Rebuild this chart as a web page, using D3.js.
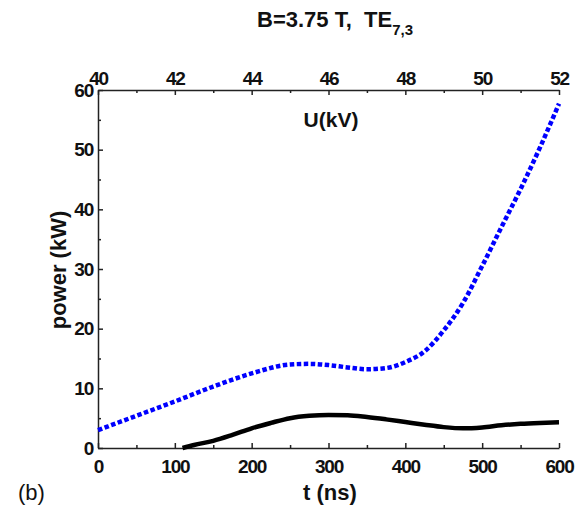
<!DOCTYPE html>
<html>
<head>
<meta charset="utf-8">
<script src="https://cdn.jsdelivr.net/npm/d3@7"></script>
<style>
  html, body { margin: 0; padding: 0; background: #fff; }
  svg { display: block; }
  text { font-family: "Liberation Sans", Arial, sans-serif; fill: #111; }
  .tick text { font-size: 19px; font-weight: bold; letter-spacing: -1.2px; }
  .tick line, .domain { stroke: #222; stroke-width: 1.5; }
</style>
</head>
<body>
<svg id="chart" width="585" height="508"></svg>
<script>
// Bottom axis: time in ns; top axis: voltage in kV
const timeTicks = [0, 100, 200, 300, 400, 500, 600];
const voltTicks = [40, 42, 44, 46, 48, 50, 52];
const powerTicks = [0, 10, 20, 30, 40, 50, 60];

// Blue dotted curve: power vs time
const blueT = [0, 50, 100, 150, 200, 250, 275, 300, 325, 350, 375, 400, 425, 450, 475, 500, 525, 550, 575, 600];
const blueP = [3.0, 5.4, 7.8, 10.3, 12.5, 14.0, 14.1, 13.9, 13.5, 13.2, 13.4, 14.4, 16.2, 19.7, 24.3, 30.5, 37.0, 43.4, 50.3, 57.7];

// Black solid curve: power vs time
const blackT = [110, 125, 150, 175, 200, 225, 250, 275, 300, 325, 350, 375, 400, 425, 450, 475, 500, 525, 550, 575, 600];
const blackP = [0, 0.5, 1.2, 2.2, 3.3, 4.2, 5.0, 5.4, 5.55, 5.5, 5.2, 4.8, 4.35, 3.9, 3.5, 3.3, 3.45, 3.8, 4.05, 4.2, 4.3];

const svg = d3.select("#chart");
const L = 98, R = 559, T = 90, B = 448;

const x = d3.scaleLinear().domain([0, 600]).range([L, R]);
const xTop = d3.scaleLinear().domain([40, 52]).range([L, R]);
const y = d3.scaleLinear().domain([0, 60]).range([B, T]);

// Minor ticks (no labels)
svg.append("g").attr("transform", `translate(0,${B})`)
  .call(d3.axisBottom(x).tickValues(d3.range(50, 600, 100)).tickSize(-3).tickSizeOuter(0).tickFormat(""))
  .call(g => g.select(".domain").remove());
svg.append("g").attr("transform", `translate(0,${T})`)
  .call(d3.axisTop(xTop).tickValues(d3.range(41, 52, 2)).tickSize(-3).tickSizeOuter(0).tickFormat(""))
  .call(g => g.select(".domain").remove());
svg.append("g").attr("transform", `translate(${L},0)`)
  .call(d3.axisLeft(y).tickValues(d3.range(5, 60, 10)).tickSize(-3).tickSizeOuter(0).tickFormat(""))
  .call(g => g.select(".domain").remove());

// Major axes
svg.append("g").attr("transform", `translate(0,${B})`)
  .call(d3.axisBottom(x).tickValues(timeTicks).tickSize(-5).tickSizeOuter(0).tickPadding(12).tickFormat(d3.format("d")));
svg.append("g").attr("transform", `translate(0,${T})`)
  .call(d3.axisTop(xTop).tickValues(voltTicks).tickSize(-5).tickSizeOuter(0).tickPadding(5).tickFormat(d3.format("d")));
svg.append("g").attr("transform", `translate(${L},0)`)
  .call(d3.axisLeft(y).tickValues(powerTicks).tickSize(-5).tickSizeOuter(0).tickPadding(5).tickFormat(d3.format("d")));

svg.selectAll(".tick text").attr("fill", "#111");

// Curves
const line = d3.line().x(d => x(d[0])).y(d => y(d[1])).curve(d3.curveMonotoneX);

svg.append("path")
  .datum(blackT.map((t, i) => [t, blackP[i]]))
  .attr("d", line)
  .attr("fill", "none").attr("stroke", "#000").attr("stroke-width", 4.5)
  .attr("stroke-linejoin", "round");

svg.append("path")
  .datum(blueT.map((t, i) => [t, blueP[i]]))
  .attr("d", line)
  .attr("fill", "none").attr("stroke", "#0000ff").attr("stroke-width", 4.5)
  .attr("stroke-dasharray", "4.5,2.5");

// Title
const title = svg.append("text").attr("x", 257).attr("y", 27)
  .style("font-size", "22px").style("font-weight", "bold");
title.append("tspan").text("B=3.75 T,\u00a0\u00a0TE");
title.append("tspan").attr("dy", 8).style("font-size", "15px").text("7,3");

// Axis titles
svg.append("text").attr("x", 331).attr("y", 127).attr("text-anchor", "middle")
  .style("font-size", "21px").style("font-weight", "bold").text("U(kV)");

svg.append("text").attr("x", 330).attr("y", 500).attr("text-anchor", "middle")
  .style("font-size", "22px").style("font-weight", "bold").text("t (ns)");

svg.append("text").attr("transform", "translate(66,270) rotate(-90)").attr("text-anchor", "middle")
  .style("font-size", "22px").style("font-weight", "bold").text("power (kW)");

svg.append("text").attr("x", 18).attr("y", 500)
  .style("font-size", "22px").text("(b)");
</script>
</body>
</html>
